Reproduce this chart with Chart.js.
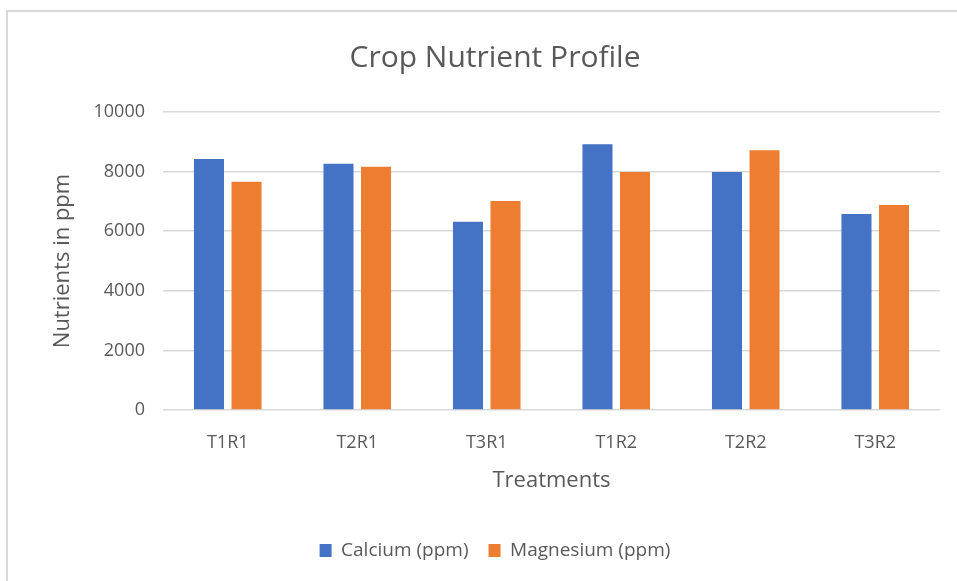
<!DOCTYPE html>
<html lang="en">
<head>
  <meta charset="UTF-8" />
  <title>Crop Nutrient Profile</title>
  <script src="https://cdn.jsdelivr.net/npm/chart.js"></script>
  <style>
    html, body { margin: 0; padding: 0; background: #fff; }
    #frame {
      position: absolute; left: 6px; top: 10px; right: -4px; bottom: -4px;
      border-left: 2px solid #d9d9d9; border-top: 2px solid #d9d9d9;
    }
    #wrap { position: absolute; left: 0; top: 0; width: 957px; height: 581px; }
  </style>
</head>
<body>
  <div id="frame"></div>
  <div id="wrap"><canvas id="chart"></canvas></div>

  <script>
    // Data
    const treatments = ['T1R1', 'T2R1', 'T3R1', 'T1R2', 'T2R2', 'T3R2'];
    const calcium = [8420, 8260, 6320, 8920, 7990, 6580];
    const magnesium = [7660, 8160, 7010, 7990, 8720, 6880];
    const yTicks = [0, 2000, 4000, 6000, 8000, 10000];

    const textColor = '#595959';
    const font = "'Open Sans', 'DejaVu Sans', sans-serif";

    new Chart(document.getElementById('chart'), {
      type: 'bar',
      data: {
        labels: treatments,
        datasets: [
          { label: 'Calcium (ppm)', data: calcium, backgroundColor: '#4472C4',
            categoryPercentage: 0.58, barPercentage: 0.8 },
          { label: 'Magnesium (ppm)', data: magnesium, backgroundColor: '#ED7D31',
            categoryPercentage: 0.58, barPercentage: 0.8 }
        ]
      },
      options: {
        responsive: true,
        maintainAspectRatio: false,
        animation: false,
        layout: { padding: { left: 50, right: 17, top: 14, bottom: 11 } },
        plugins: {
          title: {
            display: true,
            text: 'Crop Nutrient Profile',
            color: textColor,
            font: { family: font, size: 30, weight: 'normal' },
            padding: { top: 26, bottom: 36 }
          },
          legend: {
            position: 'bottom',
            labels: {
              color: textColor,
              font: { family: font, size: 19 },
              boxWidth: 12, boxHeight: 13,
              padding: 20
            }
          },
          tooltip: { enabled: false }
        },
        scales: {
          x: {
            grid: { display: false },
            border: { display: false },
            ticks: { color: textColor, font: { family: font, size: 18 }, padding: 14 },
            title: {
              display: true, text: 'Treatments', color: textColor,
              font: { family: font, size: 22 }, padding: { top: 0, bottom: 27 }
            }
          },
          y: {
            min: 0, max: 10000,
            afterBuildTicks: scale => { scale.ticks = yTicks.map(v => ({ value: v })); },
            afterFit: scale => { scale.width = 113; },
            grid: { color: '#d9d9d9', lineWidth: 1.5, drawTicks: false },
            border: { display: false },
            ticks: {
              color: textColor, font: { family: font, size: 18 }, padding: 18,
              callback: v => String(v)
            },
            title: {
              display: true, text: 'Nutrients in ppm', color: textColor,
              font: { family: font, size: 22 }, padding: 0
            }
          }
        }
      }
    });
  </script>
</body>
</html>
